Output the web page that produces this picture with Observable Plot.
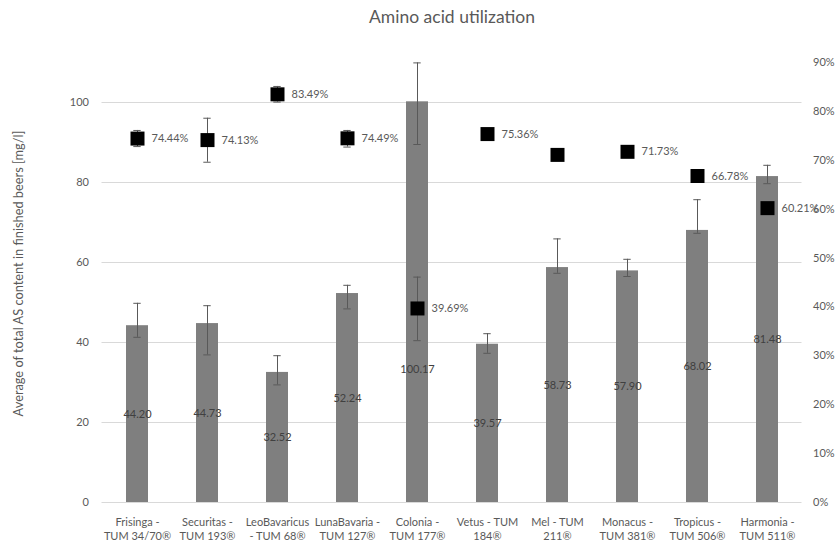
<!DOCTYPE html>
<html><head><meta charset="utf-8">
<script src="https://cdn.jsdelivr.net/npm/d3@7"></script>
<script src="https://cdn.jsdelivr.net/npm/@observablehq/plot@0.6"></script>
<style>body{margin:0;background:#fff;} svg{display:block}</style>
</head><body><div id="chart"></div>
<script>
const categories = ["Frisinga - TUM 34/70®", "Securitas - TUM 193®", "LeoBavaricus - TUM 68®", "LunaBavaria - TUM 127®", "Colonia - TUM 177®", "Vetus - TUM 184®", "Mel - TUM 211®", "Monacus - TUM 381®", "Tropicus - TUM 506®", "Harmonia - TUM 511®"];
const tickLabels = ["Frisinga -\nTUM 34/70®", "Securitas -\nTUM 193®", "LeoBavaricus\n- TUM 68®", "LunaBavaria -\nTUM 127®", "Colonia -\nTUM 177®", "Vetus - TUM\n184®", "Mel - TUM\n211®", "Monacus -\nTUM 381®", "Tropicus -\nTUM 506®", "Harmonia -\nTUM 511®"];
// Average total AS content [mg/l]
const values = [44.20, 44.73, 32.52, 52.24, 100.17, 39.57, 58.73, 57.90, 68.02, 81.48];
const barLow  = [41.3, 36.9, 29.4, 48.4, 89.5, 37.3, 57.3, 56.5, 67.3, 79.7];
const barHigh = [49.8, 49.2, 36.7, 54.3, 109.9, 42.2, 65.9, 60.8, 75.7, 84.3];
// Amino acid utilization [%]
const pct     = [74.44, 74.13, 83.49, 74.49, 39.69, 75.36, 71.1, 71.73, 66.78, 60.21];
const pctLow  = [72.8, 69.6, 81.9, 72.7, 33.1, 75.36, 71.1, 71.73, 66.78, 60.21];
const pctHigh = [76.1, 78.6, 85.1, 76.1, 46.1, 75.36, 71.1, 71.73, 66.78, 60.21];
const pctLabels = ["74.44%", "74.13%", "83.49%", "74.49%", "39.69%", "75.36%", "", "71.73%", "66.78%", "60.21%"];
const leftTicks = [0, 20, 40, 60, 80, 100];
const rightTicks = [0, 10, 20, 30, 40, 50, 60, 70, 80, 90];
const Y_MAX = 110, PCT_MAX = 90;
const title = "Amino acid utilization";
const yLabel = "Average of total AS content in finished beers [mg/l]";

const toY = p => p * Y_MAX / PCT_MAX;
const rows = categories.map((c, i) => ({
  c, v: values[i], lo: barLow[i], hi: barHigh[i],
  p: pct[i], plo: pctLow[i], phi: pctHigh[i], plabel: pctLabels[i], tick: tickLabels[i]
}));
const movedLabel = "Colonia - TUM 177®";
const pctErr = rows.filter(d => d.phi > d.plo);
const grey = "#595959";

const chart = Plot.plot({
  width: 837, height: 543,
  marginTop: 62, marginBottom: 41, marginLeft: 101.5, marginRight: 35.5,
  style: {fontFamily: "Lato, 'Open Sans', sans-serif", fontSize: "11px", color: grey, background: "#fff"},
  x: {domain: categories, paddingInner: 0.69, paddingOuter: 0.345, axis: null},
  y: {domain: [0, Y_MAX], axis: null},
  marks: [
    Plot.ruleY(leftTicks, {stroke: "#d9d9d9", strokeWidth: 1}),
    Plot.text(leftTicks, {y: d => d, frameAnchor: "left", textAnchor: "end", dx: -13, fill: grey}),
    Plot.text(rightTicks, {y: d => toY(d), text: d => d + "%", frameAnchor: "right", textAnchor: "start", dx: 11, fill: grey}),
    Plot.barY(rows, {x: "c", y: "v", fill: "#7f7f7f"}),
    Plot.ruleX(rows, {x: "c", y1: "lo", y2: "hi", stroke: grey}),
    Plot.tickY(rows, {x: "c", y: "lo", stroke: grey, insetLeft: 7.3, insetRight: 7.3}),
    Plot.tickY(rows, {x: "c", y: "hi", stroke: grey, insetLeft: 7.3, insetRight: 7.3}),
    Plot.text(rows.filter(d => d.c !== movedLabel), {x: "c", y: d => d.v / 2, text: d => d.v.toFixed(2), fill: "#404040"}),
    Plot.text(rows.filter(d => d.c === movedLabel), {x: "c", y: d => d.v / 2, text: d => d.v.toFixed(2), fill: "#404040", dy: 67}),
    Plot.ruleX(pctErr, {x: "c", y1: d => toY(d.plo), y2: d => toY(d.phi), stroke: grey}),
    Plot.tickY(pctErr, {x: "c", y: d => toY(d.plo), stroke: grey, insetLeft: 7.3, insetRight: 7.3}),
    Plot.tickY(pctErr, {x: "c", y: d => toY(d.phi), stroke: grey, insetLeft: 7.3, insetRight: 7.3}),
    Plot.dot(rows, {x: "c", y: d => toY(d.p), symbol: "square", r: 7.9, fill: "#000", stroke: "none"}),
    Plot.text(rows, {x: "c", y: d => toY(d.p), text: "plabel", textAnchor: "start", dx: 14, fill: grey}),
    Plot.text(rows, {x: "c", text: "tick", frameAnchor: "bottom", lineAnchor: "top", dy: 14, lineHeight: 1.23, fill: grey}),
    Plot.text([title], {frameAnchor: "top", lineAnchor: "middle", dy: -45, fontSize: 17.5, fill: grey}),
    Plot.text([yLabel], {frameAnchor: "left", textAnchor: "middle", rotate: -90, dx: -83, dy: -9, fontSize: 12.8, fill: grey})
  ]
});
document.getElementById("chart").append(chart);
</script>
</body></html>
